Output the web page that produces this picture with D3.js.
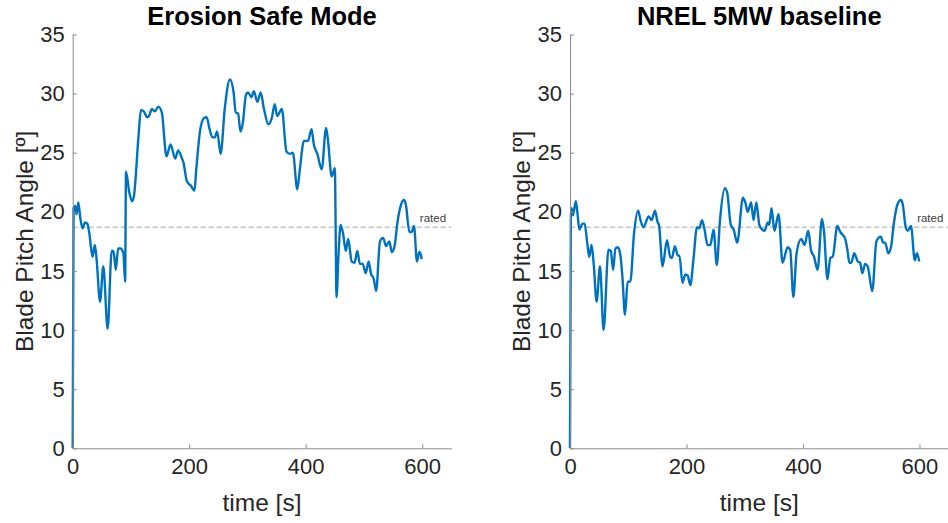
<!DOCTYPE html>
<html>
<head>
<meta charset="utf-8">
<script src="https://cdn.jsdelivr.net/npm/d3@7"></script>
<style>
  html, body { margin: 0; padding: 0; background: #fff; }
  svg { display: block; font-family: "Liberation Sans", Arial, Helvetica, sans-serif; }
</style>
</head>
<body>
<svg id="chart" width="948" height="523"></svg>
<script>
// Blade pitch angle time histories [deg] vs time [s]
const safeModeTime = [0,1.5,4,6.5,9.6,13,17,21,25,28.5,34,38,41,47,52.5,60,67,70,74,78,82,87,90,91.5,97,102,105,113,117,122,128,131,136,141,147,153,161,168,176,181,187,190,196,203,209,212,218.5,225,230,235,240,244,248,254,261,270,276,280,284,288,292,297.5,301,307,311,317,322.7,328.4,336,341.6,347,351,359,367,373,378,385.6,390,397,404,410,414,420,427.5,435,438,444.6,450,453,456,460,464,469,473,479,484,488.6,493,498,503,508,512,517,521,527.5,533,538,543.5,548,553,557,562,568.6,572,578,582,586,591,595,597,599];
const safeModePitch = [0,20.3,20.5,19.8,20.8,19.5,18.6,19.1,19.0,18.2,16.2,17.2,16.0,12.4,15.4,10.1,16.7,16.7,15.1,16.9,16.9,16.5,14.1,23.4,21.7,20.9,21.3,26.4,28.6,28.5,28.0,28.1,28.7,28.5,28.9,28.4,24.7,25.7,24.5,25.2,24.6,24.2,22.6,22.2,21.8,23.5,26.8,27.9,28.0,27.0,26.3,26.3,26.8,24.9,28.7,31.2,30.2,28.4,28.3,26.8,27.5,29.9,30.1,29.7,30.2,29.3,30.1,28.7,27.4,27.9,29.1,28.1,28.7,25.1,24.9,25.0,21.9,23.6,26.0,26.0,27.0,25.7,24.9,23.6,27.1,26.2,23.0,23.7,12.8,16.0,18.9,18.2,16.7,17.7,15.8,15.7,16.7,15.6,15.6,14.8,15.8,14.8,14.3,13.3,17.5,17.8,17.1,17.5,16.6,17.2,18.9,20.3,21.0,20.6,18.3,18.3,18.8,15.8,16.6,16.5,16.0];

const baselineTime = [0,1.5,2.7,5,10,13,16,21.6,25,30,33,37,40.5,45.7,51.5,57.7,66,70,74,78,82,86,90,94.4,99,103.5,110,117,121,126,135,140,146,150,153,159,166.5,172,175,180,185,188,193,198,202,206.6,212,218,222,226.6,231,236,241,246.5,252,257.5,266,270,276,281,287,297,301,305,311,315,320,325,330,334,339.6,342,346,351,358,365,373.6,378,383.5,389,397,402.6,409,414,419,425,432.6,436,442,447,451,459,464,472.6,476.5,479.5,483,488,494,498,502,506.6,511,519,526,533.6,537.6,541,546.6,551,556.5,562,568,571,576.8,580,585.4,592,595.6,599.6];
const baselinePitch = [0,19.8,20.3,19.7,20.9,19.8,18.5,19.0,19.0,17.2,16.2,17.2,15.7,12.4,15.4,10.0,16.8,16.7,15.1,16.9,17.0,16.5,14.5,11.3,14.1,14.1,18.2,20.1,19.3,18.7,19.6,19.3,20.1,19.2,18.8,15.4,17.6,16.2,16.1,17.1,16.3,16.3,14.0,14.7,14.6,13.8,16.0,18.7,18.6,19.3,18.5,17.2,17.2,18.5,15.5,19.3,22.0,21.6,18.9,18.5,17.4,21.2,20.8,20.0,20.8,19.3,20.8,18.9,18.5,18.4,19.1,18.9,20.3,18.4,19.8,15.7,17.0,16.8,12.8,16.5,17.7,17.2,18.4,16.7,16.2,15.1,19.4,18.4,14.3,16.1,16.2,18.8,18.3,17.7,16.7,15.7,15.7,16.5,15.8,15.7,14.8,15.6,15.4,13.3,17.5,17.9,17.4,17.4,16.5,17.0,19.2,20.6,21.0,20.7,18.6,18.4,18.8,15.9,16.5,15.8];

const panelTitles = ["Erosion Safe Mode", "NREL 5MW baseline"];
const xTicks = [0, 200, 400, 600];
const yTicks = [0, 5, 10, 15, 20, 25, 30, 35];
const xDomain = [0, 650];
const yDomain = [0, 35];
const ratedPitch = 18.7;
const ratedLabel = "rated";
const xLabel = "time [s]";
const yLabel = "Blade Pitch Angle [º]";

const svg = d3.select("#chart");

const panels = [
  { title: panelTitles[0], t: safeModeTime, v: safeModePitch, left: 72.7 },
  { title: panelTitles[1], t: baselineTime, v: baselinePitch, left: 570 }
];

const plotW = 378.6, plotTop = 34.5, plotBottom = 448.3;
const axisColor = "#8a8a8a", textColor = "#262626", lineColor = "#0072BD";

panels.forEach(p => {
  const x = d3.scaleLinear().domain(xDomain).range([p.left, p.left + plotW]);
  const y = d3.scaleLinear().domain(yDomain).range([plotBottom, plotTop]);
  const g = svg.append("g");

  // rated pitch reference
  g.append("line")
    .attr("x1", x(xDomain[0])).attr("x2", x(xDomain[1]))
    .attr("y1", y(ratedPitch)).attr("y2", y(ratedPitch))
    .attr("stroke", "#c4c4c4").attr("stroke-width", 1.4)
    .attr("stroke-dasharray", "5,3");
  g.append("text")
    .attr("x", x(596)).attr("y", y(ratedPitch) - 5.5)
    .attr("font-size", 11.5).attr("fill", "#404040")
    .text(ratedLabel);

  // pitch time history
  const data = p.t.map((t, i) => [t, p.v[i]]);
  g.append("path")
    .datum(data)
    .attr("fill", "none")
    .attr("stroke", lineColor)
    .attr("stroke-width", 2.4)
    .attr("stroke-linejoin", "round")
    .attr("d", d3.line().x(d => x(d[0])).y(d => y(d[1])).curve(d3.curveMonotoneX));

  // axes (ticks point inward)
  const xAxis = g.append("g").attr("transform", `translate(0,${plotBottom})`)
    .call(d3.axisBottom(x).tickValues(xTicks).tickSize(-4).tickPadding(10).tickSizeOuter(0));
  const yAxis = g.append("g").attr("transform", `translate(${p.left},0)`)
    .call(d3.axisLeft(y).tickValues(yTicks).tickSize(-4).tickPadding(8).tickSizeOuter(0));
  [xAxis, yAxis].forEach(a => {
    a.select(".domain").attr("stroke", axisColor).attr("stroke-width", 1);
    a.selectAll(".tick line").attr("stroke", axisColor);
    a.selectAll(".tick text").attr("fill", textColor).attr("font-size", 22)
      .attr("font-family", "'Liberation Sans', Arial, sans-serif");
  });
  xAxis.selectAll(".tick text").attr("dy", "0.71em");

  // title and axis labels
  const cx = p.left + plotW / 2;
  g.append("text")
    .attr("x", cx).attr("y", 25)
    .attr("text-anchor", "middle").attr("font-weight", "bold")
    .attr("font-size", 25.5).attr("fill", "#000")
    .text(p.title);
  g.append("text")
    .attr("x", cx).attr("y", 511)
    .attr("text-anchor", "middle").attr("font-size", 24.5).attr("fill", textColor)
    .text(xLabel);
  g.append("text")
    .attr("transform", `translate(${p.left - 40},${(plotTop + plotBottom) / 2}) rotate(-90)`)
    .attr("text-anchor", "middle").attr("font-size", 24.5).attr("fill", textColor)
    .text(yLabel);
});
</script>
</body>
</html>
